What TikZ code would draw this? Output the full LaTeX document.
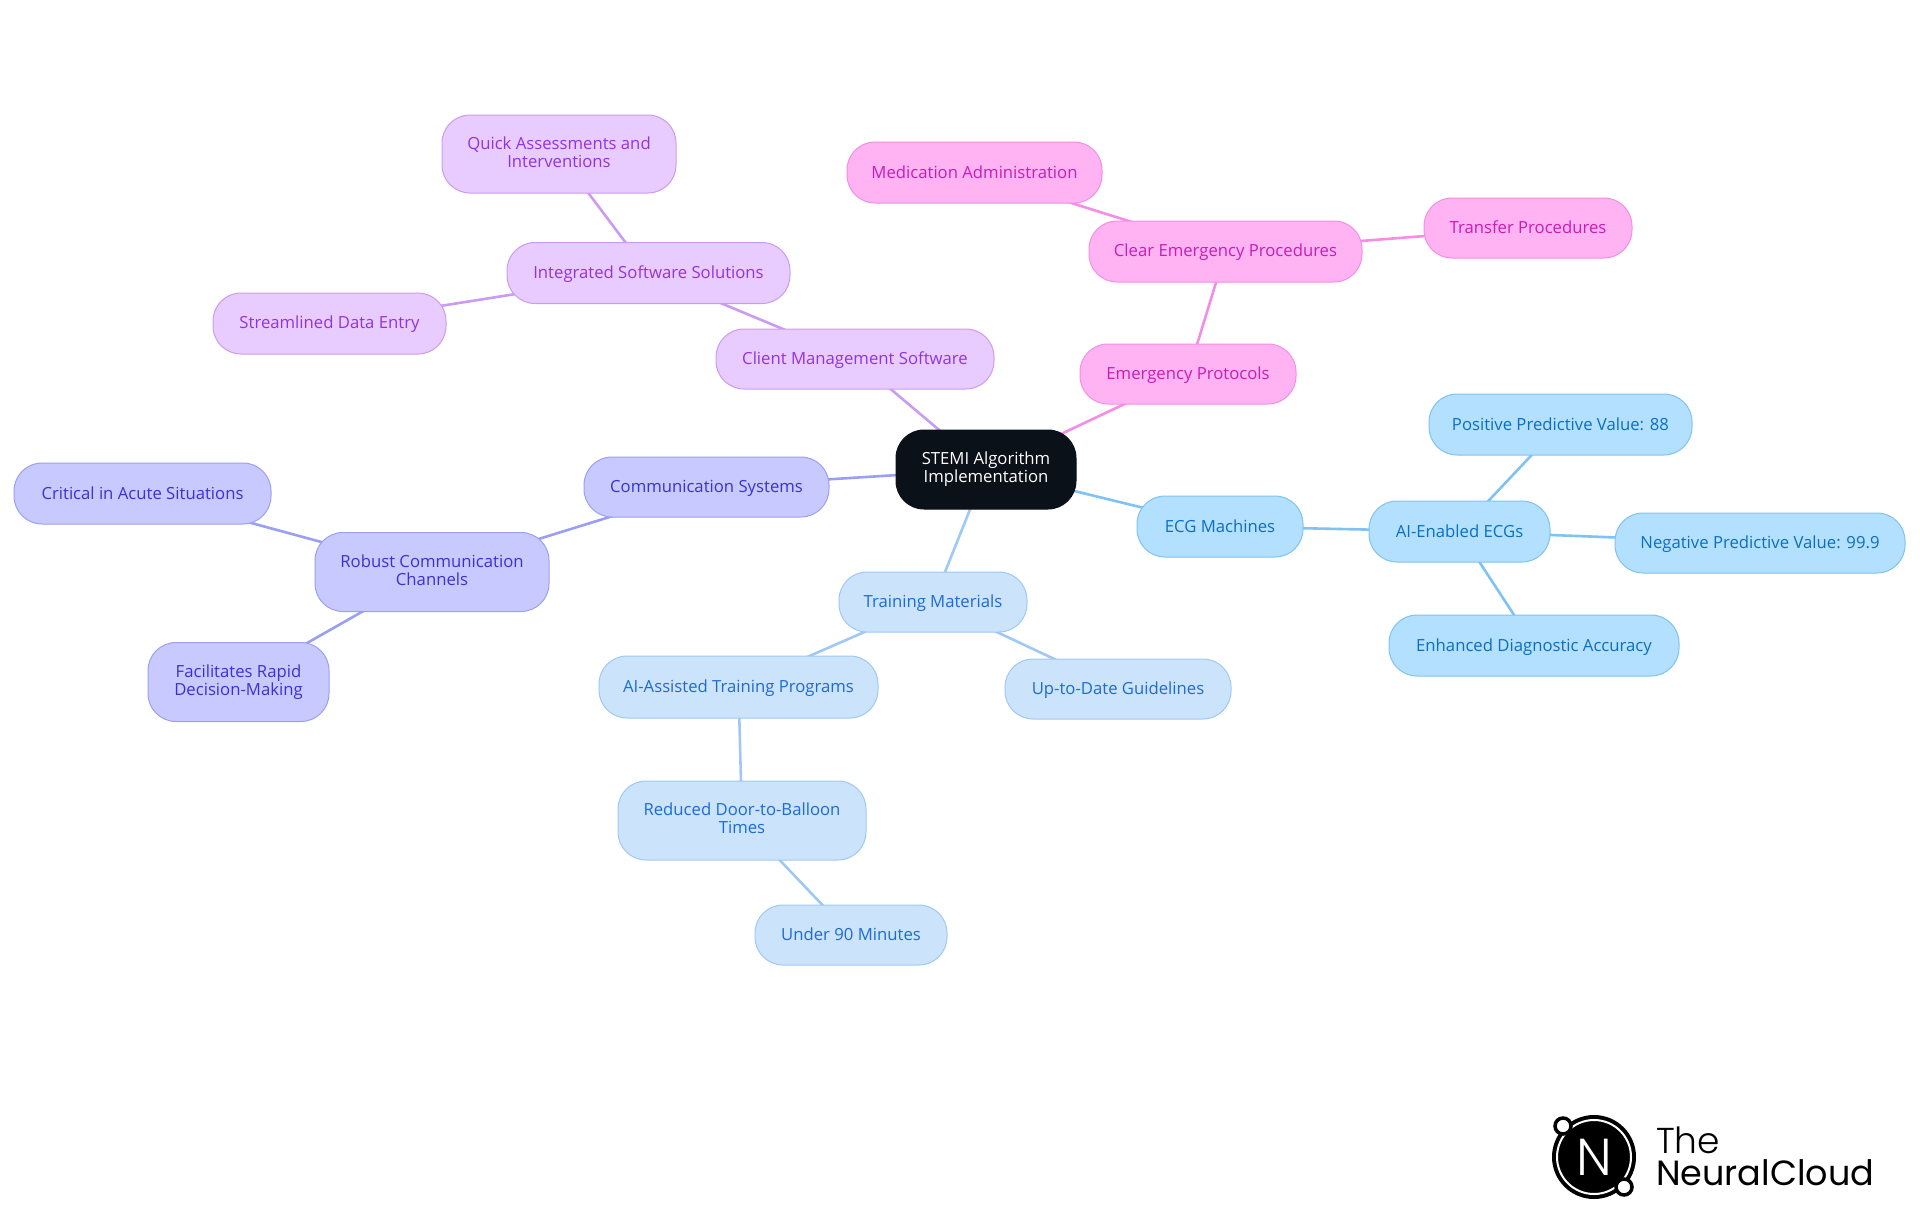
\documentclass[tikz,border=0pt]{standalone}
\usepackage{fontspec}
\setmainfont{Open Sans}
\newfontfamily\logofont[UprightFont=* Light]{Poppins}
\newfontfamily\logobold{Poppins}
\usetikzlibrary{backgrounds}
\definecolor{rootc}{HTML}{0B1119}
\definecolor{ecgf}{HTML}{B3E0FF}\definecolor{ecgd}{HTML}{7EC3F3}\definecolor{ecgt}{HTML}{0B6FBF}
\definecolor{trnf}{HTML}{CCE3FC}\definecolor{trnd}{HTML}{9FC8F5}\definecolor{trnt}{HTML}{1C6CD2}
\definecolor{comf}{HTML}{C8CAFF}\definecolor{comd}{HTML}{9B9FF2}\definecolor{comt}{HTML}{3A32D0}
\definecolor{cltf}{HTML}{E8CCFF}\definecolor{cltd}{HTML}{CB9BF2}\definecolor{cltt}{HTML}{9333D9}
\definecolor{emgf}{HTML}{FFB3F3}\definecolor{emgd}{HTML}{F58DE6}\definecolor{emgt}{HTML}{C71DB6}
\newcommand\toprule{\rule{0pt}{15pt}}
\newcommand\botrule{\rule[-4pt]{0pt}{4pt}}
\tikzset{
  x=1pt,y=-1pt,
  mm/.style={rectangle,rounded corners=28pt,inner sep=0pt,line width=1pt,align=center,
    font=\fontsize{16.7}{18}\selectfont,execute at begin node=\toprule,execute at end node=\botrule},
  rootn/.style={mm,fill=rootc,draw=rootc,text=white},
  ecgn/.style={mm,fill=ecgf,draw=ecgd,text=ecgt},
  trnn/.style={mm,fill=trnf,draw=trnd,text=trnt},
  comn/.style={mm,fill=comf,draw=comd,text=comt},
  cltn/.style={mm,fill=cltf,draw=cltd,text=cltt},
  emgn/.style={mm,fill=emgf,draw=emgd,text=emgt},
  link/.style={line width=2.6pt},
  size/.style 2 args={minimum width=#1pt,minimum height=#2pt},
  dot/.style={circle,fill=white,draw=black,line width=3.5pt,minimum size=16pt,inner sep=0pt},
  logotext/.style={anchor=base west,inner sep=0pt,text=black}
}
\begin{document}
\begin{tikzpicture}
\useasboundingbox (0,0) rectangle (1920,1215);
\node[rootn,size={180}{79}] (root) at (986,469.5) {STEMI Algorithm\\Implementation};
\node[cltn,size={278}{60}] (client) at (855,359) {Client Management Software};
\node[cltn,size={283}{61}] (integ) at (648.5,273) {Integrated Software Solutions};
\node[cltn,size={234}{78}] (quick) at (559,154) {Quick Assessments and\\Interventions};
\node[cltn,size={233}{61}] (stream) at (329.5,323.5) {Streamlined Data Entry};
\node[emgn,size={216}{60}] (emerg) at (1188,374) {Emergency Protocols};
\node[emgn,size={273}{61}] (clear) at (1225.5,251.5) {Clear Emergency Procedures};
\node[emgn,size={255}{61}] (medic) at (974.5,172.5) {Medication Administration};
\node[emgn,size={208}{60}] (transf) at (1528,228) {Transfer Procedures};
\node[ecgn,size={166}{61}] (ecg) at (1220,526.5) {ECG Machines};
\node[ecgn,size={181}{61}] (aiecg) at (1459.5,531.5) {AI-Enabled ECGs};
\node[ecgn,size={263}{61}] (ppv) at (1560.5,424.5) {Positive Predictive Value: 88};
\node[ecgn,size={290}{60}] (npv) at (1760,543) {Negative Predictive Value: 99.9};
\node[ecgn,size={290}{61}] (enh) at (1534,645.5) {Enhanced Diagnostic Accuracy};
\node[trnn,size={188}{60}] (train) at (933,602) {Training Materials};
\node[trnn,size={279}{62}] (aitrn) at (738.5,687) {AI-Assisted Training Programs};
\node[trnn,size={226}{60}] (uptd) at (1118,689) {Up-to-Date Guidelines};
\node[trnn,size={248}{79}] (reduc) at (742,820.5) {Reduced Door-to-Balloon\\Times};
\node[trnn,size={192}{60}] (under) at (851,935) {Under 90 Minutes};
\node[comn,size={245}{60}] (comm) at (706.5,487) {Communication Systems};
\node[comn,size={234}{79}] (robust) at (432,572) {Robust Communication\\Channels};
\node[comn,size={257}{61}] (crit) at (142.5,493.5) {Critical in Acute Situations};
\node[comn,size={181}{79}] (facil) at (238.5,682) {Facilitates Rapid\\Decision-Making};
\begin{scope}[on background layer]
\draw[link,cltd] (root.center) -- (client.center);
\draw[link,cltd] (client.center) -- (integ.center);
\draw[link,cltd] (integ.center) -- (quick.center);
\draw[link,cltd] (integ.center) -- (stream.center);
\draw[link,emgd] (root.center) -- (emerg.center);
\draw[link,emgd] (emerg.center) -- (clear.center);
\draw[link,emgd] (clear.center) -- (medic.center);
\draw[link,emgd] (clear.center) -- (transf.center);
\draw[link,ecgd] (root.center) -- (ecg.center);
\draw[link,ecgd] (ecg.center) -- (aiecg.center);
\draw[link,ecgd] (aiecg.center) -- (ppv.center);
\draw[link,ecgd] (aiecg.center) -- (npv.center);
\draw[link,ecgd] (aiecg.center) -- (enh.center);
\draw[link,trnd] (root.center) -- (train.center);
\draw[link,trnd] (train.center) -- (aitrn.center);
\draw[link,trnd] (train.center) -- (uptd.center);
\draw[link,trnd] (aitrn.center) -- (reduc.center);
\draw[link,trnd] (reduc.center) -- (under.center);
\draw[link,comd] (root.center) -- (comm.center);
\draw[link,comd] (comm.center) -- (robust.center);
\draw[link,comd] (robust.center) -- (crit.center);
\draw[link,comd] (robust.center) -- (facil.center);
\end{scope}
% logo
\node[circle,fill=black,minimum size=84pt,inner sep=0pt] (disc) at (1594,1157) {};
\node[circle,draw=white,line width=2pt,minimum size=74pt,inner sep=0pt] (ring) at (disc.center) {};
\node[dot] (dota) at (1563,1126) {};
\node[dot] (dotb) at (1624,1187) {};
\node[inner sep=0pt,text=white,font=\logofont\fontsize{52}{52}\selectfont] (nmark) at (disc.center) {N};
\node[logotext,font=\logofont\fontsize{36}{36}\selectfont] (the) at (1656,1153) {The};
\node[logotext,font=\logobold\fontsize{35}{36}\selectfont] (nc) at (1656,1185) {NeuralCloud};
\end{tikzpicture}
\end{document}
